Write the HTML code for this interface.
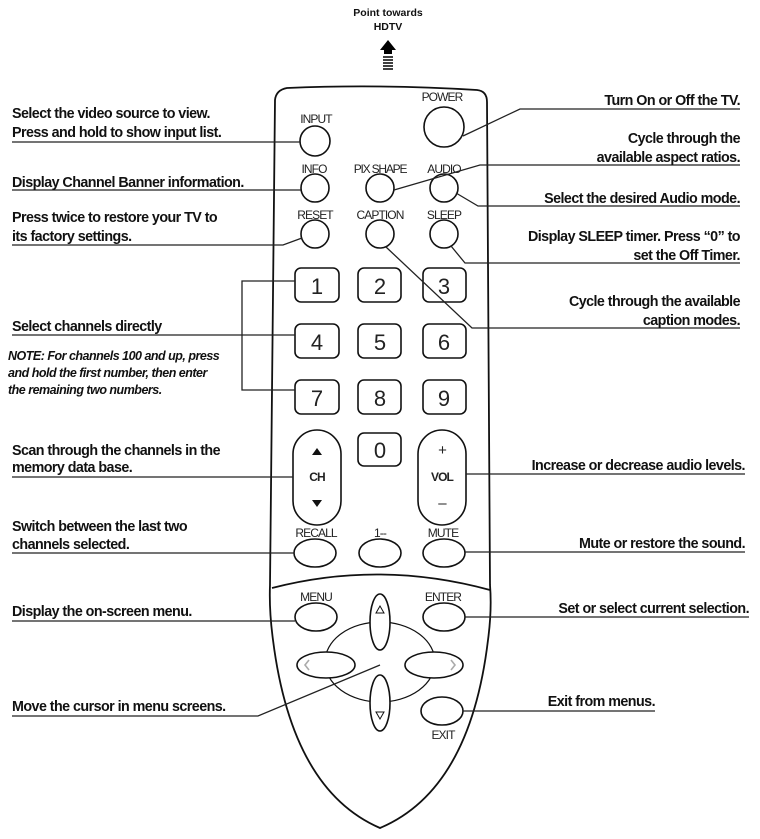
<!DOCTYPE html>
<html><head><style>
html,body{margin:0;padding:0;background:#fff;}
svg{display:block;}
text{font-family:"Liberation Sans",sans-serif;fill:#111;}
.t{font-size:14.3px;font-weight:bold;letter-spacing:-0.55px;}
.i{font-size:12.5px;font-weight:bold;font-style:italic;letter-spacing:-0.5px;}
.b{font-size:12px;letter-spacing:-0.9px;fill:#222;}
.n{font-size:22px;fill:#222;}
</style></head><body>
<svg width="760" height="839" viewBox="0 0 760 839" xmlns="http://www.w3.org/2000/svg">
<g fill="none" stroke="#111" stroke-width="1.8">
<path d="M287,88 Q380,84 477,90 Q487,91 487,102 L490,585 Q492,610 488,640 Q470,790 380,828 Q292,790 273,640 Q269,610 270,585 L275,100 Q276,90 287,88 Z"/>
<path d="M272,588 Q380,560 490,590"/>
</g>
<text x="388" y="16" text-anchor="middle" style="font-size:10.5px;font-weight:bold">Point towards</text>
<text x="388" y="30" text-anchor="middle" style="font-size:10.5px;font-weight:bold">HDTV</text>
<path d="M380,50 L388,40 L396,50 L392,50 L392,54 L384,54 L384,50 Z" fill="#000"/>
<g stroke="#000" stroke-width="1.5"><line x1="383" y1="57" x2="393" y2="57"/><line x1="383" y1="60" x2="393" y2="60"/><line x1="383" y1="63" x2="393" y2="63"/><line x1="383" y1="66" x2="393" y2="66"/><line x1="383" y1="69" x2="393" y2="69"/></g>

<g fill="none" stroke="#111" stroke-width="1.6">
<circle cx="315" cy="141" r="15"/>
<circle cx="444" cy="127" r="20"/>
<circle cx="315" cy="188" r="14"/>
<circle cx="380" cy="188" r="14"/>
<circle cx="444" cy="188" r="14"/>
<circle cx="315" cy="234" r="14"/>
<circle cx="380" cy="234" r="14"/>
<circle cx="444" cy="234" r="14"/>
<rect x="295" y="268" width="44" height="34" rx="6"/>
<rect x="358" y="268" width="43" height="34" rx="6"/>
<rect x="423" y="268" width="43" height="34" rx="6"/>
<rect x="295" y="324" width="44" height="34" rx="6"/>
<rect x="358" y="324" width="43" height="34" rx="6"/>
<rect x="423" y="324" width="43" height="34" rx="6"/>
<rect x="295" y="380" width="44" height="34" rx="6"/>
<rect x="358" y="380" width="43" height="34" rx="6"/>
<rect x="423" y="380" width="43" height="34" rx="6"/>
<rect x="358" y="433" width="43" height="33" rx="6"/>
<rect x="293" y="430" width="48" height="95" rx="24"/>
<rect x="418" y="430" width="48" height="95" rx="24"/>
<ellipse cx="315" cy="553" rx="21" ry="14"/>
<ellipse cx="380" cy="553" rx="21" ry="14"/>
<ellipse cx="444" cy="553" rx="21" ry="14"/>
<ellipse cx="316" cy="617" rx="21" ry="14"/>
<ellipse cx="444" cy="617" rx="21" ry="14"/>
<ellipse cx="442" cy="711" rx="21" ry="14"/>
<ellipse cx="380" cy="662" rx="55" ry="40" stroke-width="1.2"/>
<ellipse cx="380" cy="622" rx="10" ry="28" fill="#fff"/>
<ellipse cx="380" cy="703" rx="10" ry="28" fill="#fff"/>
<ellipse cx="326" cy="665" rx="29" ry="13" fill="#fff"/>
<ellipse cx="434" cy="665" rx="29" ry="13" fill="#fff"/>
<path d="M376,613 L380,606 L384,613 Z" stroke-width="1"/>
<path d="M376,712 L380,719 L384,712 Z" stroke-width="1"/>
<path d="M309,660 L305,665 L309,670" stroke="#aaa"/>
<path d="M451,660 L455,665 L451,670" stroke="#aaa"/>
</g>
<g text-anchor="middle">
<text class="b" x="316" y="123">INPUT</text>
<text class="b" x="442" y="101">POWER</text>
<text class="b" x="314" y="173">INFO</text>
<text class="b" x="380" y="173" style="letter-spacing:-1.2px">PIX SHAPE</text>
<text class="b" x="444" y="173">AUDIO</text>
<text class="b" x="315" y="219">RESET</text>
<text class="b" x="380" y="219">CAPTION</text>
<text class="b" x="444" y="219">SLEEP</text>
<text class="n" x="317" y="294">1</text><text class="n" x="380" y="294">2</text><text class="n" x="444" y="294">3</text>
<text class="n" x="317" y="350">4</text><text class="n" x="380" y="350">5</text><text class="n" x="444" y="350">6</text>
<text class="n" x="317" y="406">7</text><text class="n" x="380" y="406">8</text><text class="n" x="444" y="406">9</text>
<text class="n" x="380" y="458">0</text>
<text class="b" x="317" y="481" style="font-weight:bold">CH</text>
<text class="b" x="442" y="481" style="font-weight:bold">VOL</text>
<text class="b" x="442" y="455" style="font-size:15px">+</text>
<text class="b" x="442" y="508" style="font-size:15px">–</text>
<text class="b" x="316" y="537">RECALL</text>
<text class="b" x="380" y="537">1--</text>
<text class="b" x="443" y="537">MUTE</text>
<text class="b" x="316" y="601">MENU</text>
<text class="b" x="443" y="601">ENTER</text>
<text class="b" x="443" y="739">EXIT</text>
</g>
<path d="M312,455 L317,448 L322,455 Z M312,500 L317,507 L322,500 Z" fill="#111"/>

<g fill="none" stroke="#222" stroke-width="1.3">
<path d="M12,142 L300,142"/>
<path d="M12,190 L301,190"/>
<path d="M12,245 L283,245 L302,238"/>
<path d="M295,281 L242,281 L242,390 L295,390"/>
<path d="M12,335 L295,335"/>
<path d="M12,477 L293,477"/>
<path d="M12,553 L294,553"/>
<path d="M12,621 L295,621"/>
<path d="M12,716 L258,716 L380,665"/>
<path d="M740,109 L520,109 L463,136"/>
<path d="M740,165 L480,165 L394,190"/>
<path d="M740,206 L478,206 L456,193"/>
<path d="M740,263 L465,263 L451,246"/>
<path d="M740,328 L472,328 L386,247"/>
<path d="M745,474 L466,474"/>
<path d="M745,552 L465,552"/>
<path d="M749,617 L465,617"/>
<path d="M655,711 L463,711"/>
</g>

<text class="t" x="12" y="118">Select the video source to view.</text>
<text class="t" x="12" y="137">Press and hold to show input list.</text>
<text class="t" x="12" y="187">Display Channel Banner information.</text>
<text class="t" x="12" y="222">Press twice to restore your TV to</text>
<text class="t" x="12" y="241">its factory settings.</text>
<text class="t" x="12" y="331">Select channels directly</text>
<text class="i" x="8" y="360">NOTE: For channels 100 and up, press</text>
<text class="i" x="8" y="377">and hold the first number, then enter</text>
<text class="i" x="8" y="394">the remaining two numbers.</text>
<text class="t" x="12" y="455">Scan through the channels in the</text>
<text class="t" x="12" y="472">memory data base.</text>
<text class="t" x="12" y="531">Switch between the last two</text>
<text class="t" x="12" y="549">channels selected.</text>
<text class="t" x="12" y="616">Display the on-screen menu.</text>
<text class="t" x="12" y="711">Move the cursor in menu screens.</text>
<g text-anchor="end">
<text class="t" x="740" y="105">Turn On or Off the TV.</text>
<text class="t" x="740" y="143">Cycle through the</text>
<text class="t" x="740" y="162">available aspect ratios.</text>
<text class="t" x="740" y="203">Select the desired Audio mode.</text>
<text class="t" x="740" y="241">Display SLEEP timer. Press “0” to</text>
<text class="t" x="740" y="260">set the Off Timer.</text>
<text class="t" x="740" y="306">Cycle through the available</text>
<text class="t" x="740" y="325">caption modes.</text>
<text class="t" x="745" y="470">Increase or decrease audio levels.</text>
<text class="t" x="745" y="548">Mute or restore the sound.</text>
<text class="t" x="749" y="613">Set or select current selection.</text>
<text class="t" x="655" y="706">Exit from menus.</text>
</g>
</svg>
</body></html>
